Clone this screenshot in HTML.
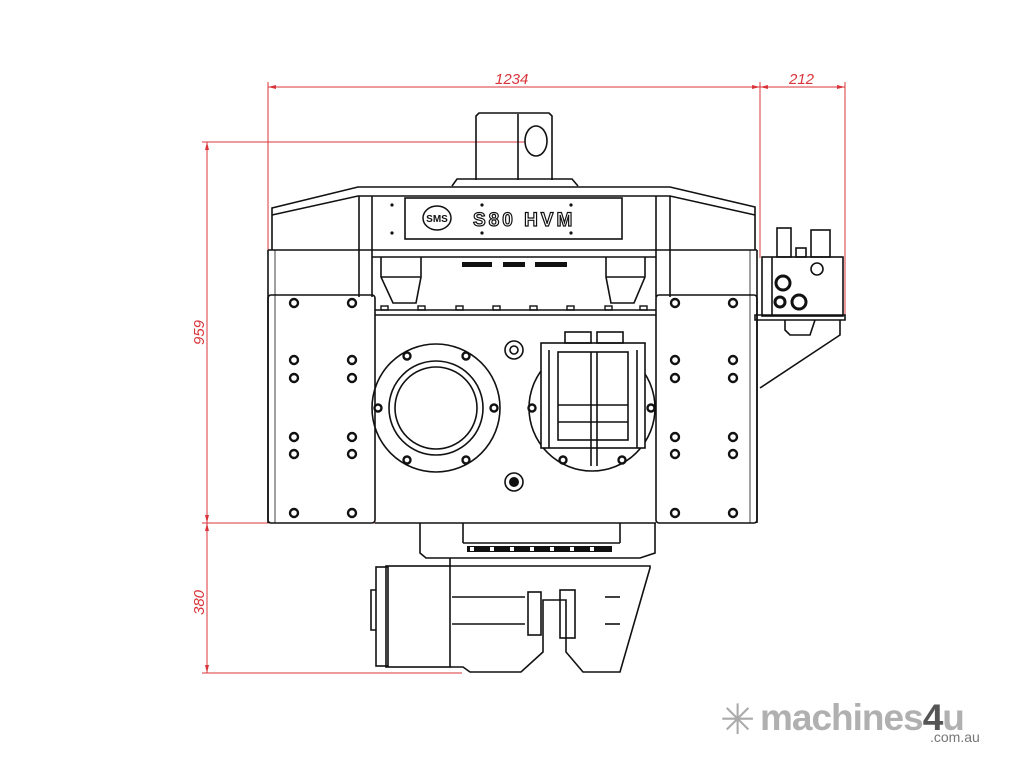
<!DOCTYPE html>
<html><head><meta charset="utf-8"><style>
html,body{margin:0;padding:0;background:#fff;width:1024px;height:768px;overflow:hidden}
svg{display:block}
</style></head><body>
<svg width="1024" height="768" viewBox="0 0 1024 768" xmlns="http://www.w3.org/2000/svg">
<g stroke="#d9343a" stroke-width="1" fill="none">
  <line x1="268" y1="87" x2="845" y2="87"/>
  <line x1="268" y1="82" x2="268" y2="255"/>
  <line x1="760" y1="82" x2="760" y2="258"/>
  <line x1="845" y1="82" x2="845" y2="316"/>
  <line x1="207" y1="142" x2="207" y2="673"/>
  <line x1="202" y1="142" x2="525" y2="142"/>
  <line x1="202" y1="523" x2="420" y2="523"/>
  <line x1="202" y1="673" x2="462" y2="673"/>
</g>
<g fill="#d9343a">
  <polygon points="268,87 276,85 276,89"/><polygon points="760,87 752,85 752,89"/>
  <polygon points="760,87 768,85 768,89"/><polygon points="845,87 837,85 837,89"/>
  <polygon points="207,142 205,150 209,150"/><polygon points="207,523 205,515 209,515"/>
  <polygon points="207,523 205,531 209,531"/><polygon points="207,673 205,665 209,665"/>
</g>
<g font-family="Liberation Sans, sans-serif" font-style="italic" font-size="15" fill="#d9343a">
  <text x="495" y="84">1234</text>
  <text x="789" y="84">212</text>
  <text transform="translate(204,345) rotate(-90)">959</text>
  <text transform="translate(204,615) rotate(-90)">380</text>
</g>
<g stroke="#111" stroke-width="1.6" fill="none">
  <path d="M476,180 V116 L479,113 H549 L552,116 V180"/>
  <line x1="518" y1="114" x2="518" y2="180"/>
  <ellipse cx="536" cy="141" rx="11" ry="15"/>
  <path d="M452,186 L457,179 H572 L578,186"/>
  <path d="M272,250 V208 L358,187 H670 L755,207 V250"/>
  <path d="M272,215 L358,196 H670 L755,215"/>
  <line x1="359" y1="196" x2="359" y2="297"/><line x1="372" y1="196" x2="372" y2="297"/>
  <line x1="656" y1="196" x2="656" y2="297"/><line x1="670" y1="196" x2="670" y2="297"/>
  <rect x="405" y="198" width="217" height="41"/>
  <line x1="268" y1="250" x2="757" y2="250"/>
  <line x1="372" y1="257" x2="656" y2="257"/>
  <line x1="268" y1="250" x2="268" y2="523"/>
  <line x1="757" y1="250" x2="757" y2="523"/>
  <line x1="275" y1="250" x2="275" y2="523" stroke-width="0.8"/>
  <line x1="750" y1="250" x2="750" y2="523" stroke-width="0.8"/>
  <path d="M381,257 V277 L393,303 H416 L421,277 V257"/>
  <line x1="381" y1="277" x2="421" y2="277"/>
  <path d="M606,257 V277 L611,303 H634 L645,277 V257"/>
  <line x1="606" y1="277" x2="645" y2="277"/>
  <rect x="268" y="295" width="107" height="228" rx="3"/>
  <rect x="656" y="295" width="101" height="228" rx="3"/>
  <line x1="375" y1="310" x2="656" y2="310"/>
  <line x1="375" y1="315" x2="656" y2="315"/>
  <line x1="375" y1="523" x2="656" y2="523"/>
  <circle cx="436" cy="408" r="64"/>
  <circle cx="436" cy="408" r="47"/>
  <circle cx="436" cy="408" r="41"/>
  <circle cx="592" cy="408" r="63"/>
  <circle cx="514" cy="350" r="9"/><circle cx="514" cy="350" r="4"/>
  <circle cx="514" cy="482" r="9"/>
  <rect x="541" y="343" width="104" height="105" fill="#fff"/>
  <rect x="558" y="352" width="70" height="88"/>
  <line x1="591" y1="352" x2="591" y2="466"/><line x1="597" y1="352" x2="597" y2="466"/>
  <line x1="558" y1="405" x2="628" y2="405"/><line x1="558" y1="422" x2="628" y2="422"/>
  <rect x="565" y="332" width="26" height="11"/><rect x="597" y="332" width="26" height="11"/>
  <line x1="549" y1="350" x2="549" y2="448"/><line x1="637" y1="350" x2="637" y2="448"/>
  <path d="M420,523 V553 L426,558 H640 L655,553 V523"/>
  <line x1="463" y1="523" x2="463" y2="543"/><line x1="620" y1="523" x2="620" y2="543"/>
  <line x1="463" y1="543" x2="620" y2="543"/>
  <path d="M450,558 V566 H620 L650,566 L650,568 L620,672 H583 L566,652 V600 H543 V652 L521,672 H470 L463,667 L450,667"/>
  <line x1="452" y1="597" x2="525" y2="597"/><line x1="452" y1="624" x2="525" y2="624"/>
  <line x1="605" y1="597" x2="620" y2="597"/><line x1="605" y1="624" x2="620" y2="624"/>
  <rect x="528" y="592" width="13" height="43"/><rect x="560" y="590" width="15" height="48"/>
  <rect x="386" y="566" width="64" height="101"/>
  <rect x="376" y="567" width="12" height="99"/>
  <path d="M376,590 H371 V630 H376"/>
  <rect x="762" y="257" width="81" height="59"/>
  <line x1="772" y1="257" x2="772" y2="316"/>
  <rect x="777" y="228" width="14" height="29"/><rect x="811" y="230" width="19" height="27"/>
  <rect x="796" y="248" width="10" height="9"/>
  <circle cx="783" cy="283" r="7" stroke-width="3"/>
  <circle cx="780" cy="302" r="5" stroke-width="3"/>
  <circle cx="799" cy="302" r="7" stroke-width="3"/>
  <circle cx="817" cy="269" r="6"/>
  <path d="M755,315 H845 V320 H755 Z"/>
  <path d="M840,320 V335 L760,388"/>
  <path d="M785,320 V330 L790,335 H810 L815,320"/>
</g>
<g fill="#fff" stroke="#111" stroke-width="2.4">
  <circle cx="294" cy="303" r="4"/><circle cx="352" cy="303" r="4"/><circle cx="675" cy="303" r="4"/><circle cx="733" cy="303" r="4"/>
  <circle cx="294" cy="360" r="4"/><circle cx="352" cy="360" r="4"/><circle cx="675" cy="360" r="4"/><circle cx="733" cy="360" r="4"/>
  <circle cx="294" cy="378" r="4"/><circle cx="352" cy="378" r="4"/><circle cx="675" cy="378" r="4"/><circle cx="733" cy="378" r="4"/>
  <circle cx="294" cy="437" r="4"/><circle cx="352" cy="437" r="4"/><circle cx="675" cy="437" r="4"/><circle cx="733" cy="437" r="4"/>
  <circle cx="294" cy="454" r="4"/><circle cx="352" cy="454" r="4"/><circle cx="675" cy="454" r="4"/><circle cx="733" cy="454" r="4"/>
  <circle cx="294" cy="513" r="4"/><circle cx="352" cy="513" r="4"/><circle cx="675" cy="513" r="4"/><circle cx="733" cy="513" r="4"/>
  <circle cx="407" cy="356" r="3.5"/><circle cx="466" cy="356" r="3.5"/><circle cx="378" cy="408" r="3.5"/><circle cx="494" cy="408" r="3.5"/>
  <circle cx="407" cy="460" r="3.5"/><circle cx="466" cy="460" r="3.5"/>
  <circle cx="532" cy="408" r="3.5"/><circle cx="651" cy="408" r="3.5"/><circle cx="563" cy="460" r="3.5"/><circle cx="622" cy="460" r="3.5"/>
</g>
<g fill="none" stroke="#111" stroke-width="1.4">
  <rect x="381" y="306" width="7" height="4"/><rect x="418" y="306" width="7" height="4"/><rect x="456" y="306" width="7" height="4"/>
  <rect x="493" y="306" width="7" height="4"/><rect x="530" y="306" width="7" height="4"/><rect x="567" y="306" width="7" height="4"/><rect x="605" y="306" width="7" height="4"/><rect x="640" y="306" width="7" height="4"/>
</g>
<g fill="#111">
  <rect x="462" y="262" width="30" height="5"/><rect x="503" y="262" width="22" height="5"/><rect x="535" y="262" width="32" height="5"/>
  <rect x="467" y="546" width="145" height="6"/>
  <circle cx="514" cy="482" r="5"/>
  <circle cx="392" cy="205" r="1.6"/><circle cx="482" cy="205" r="1.6"/><circle cx="571" cy="205" r="1.6"/>
  <circle cx="392" cy="233" r="1.6"/><circle cx="482" cy="233" r="1.6"/><circle cx="571" cy="233" r="1.6"/>
</g>
<g fill="#fff"><rect x="470" y="547" width="4" height="4"/><rect x="490" y="547" width="4" height="4"/><rect x="510" y="547" width="4" height="4"/><rect x="530" y="547" width="4" height="4"/><rect x="550" y="547" width="4" height="4"/><rect x="570" y="547" width="4" height="4"/><rect x="590" y="547" width="4" height="4"/></g>
<ellipse cx="437" cy="218" rx="14" ry="12" fill="none" stroke="#111" stroke-width="1.5"/>
<text x="437" y="222" text-anchor="middle" font-family="Liberation Sans, sans-serif" font-size="10" font-weight="bold" fill="#111">SMS</text>
<text x="473" y="226" font-family="Liberation Sans, sans-serif" font-size="19" font-weight="bold" fill="#fff" stroke="#111" stroke-width="1.2" letter-spacing="3">S80 HVM</text>
<g font-family="Liberation Sans, sans-serif">
  <text x="720" y="734" font-size="42" fill="#aaa">✳</text>
  <text x="760" y="730" font-size="37" font-weight="bold" fill="#b0b0b0" letter-spacing="-1">machines<tspan fill="#555">4</tspan>u</text>
  <text x="930" y="742" font-size="14" fill="#777">.com.au</text>
</g>
</svg>
</body></html>
